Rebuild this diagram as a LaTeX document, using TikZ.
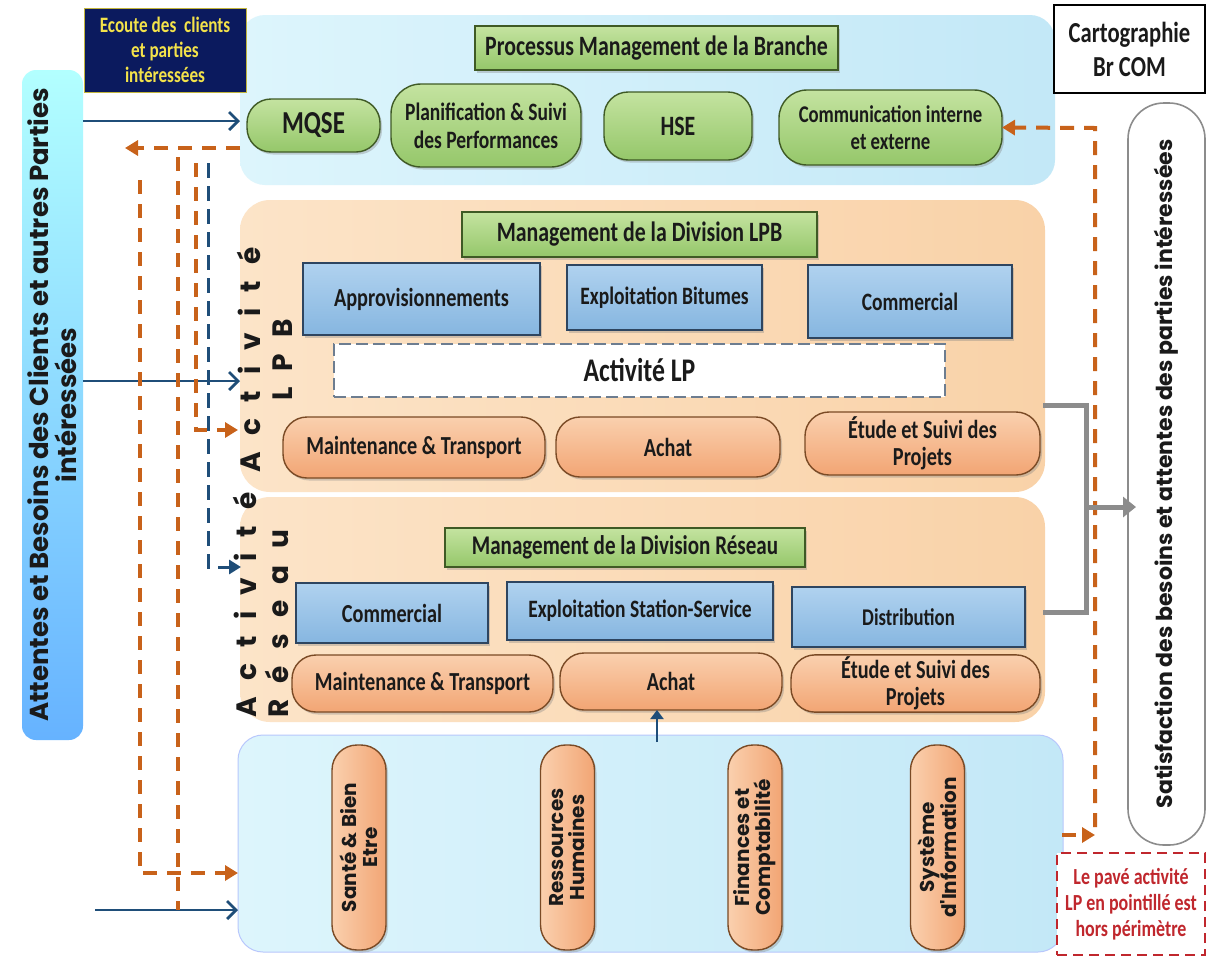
\documentclass[tikz,border=0pt]{standalone}
\usepackage{fontspec}
\setmainfont{Carlito}
\newfontfamily\cond[FakeStretch=0.78]{Carlito}
\newfontfamily\geo{Poppins}
\usetikzlibrary{arrows.meta,shadows}
\definecolor{navy}{HTML}{1F4E79}
\definecolor{orng}{HTML}{C8621A}
\definecolor{grnT}{HTML}{C4E3A0}
\definecolor{grnB}{HTML}{95C76A}
\definecolor{grnD}{HTML}{3F5A25}
\definecolor{bluT}{HTML}{B0D2EF}
\definecolor{bluB}{HTML}{86B6E0}
\definecolor{bluD}{HTML}{2E4560}
\definecolor{orT}{HTML}{FAD0AE}
\definecolor{orB}{HTML}{F2A574}
\definecolor{orD}{HTML}{7A4A25}
\definecolor{cyL}{HTML}{DDF5FC}
\definecolor{cyR}{HTML}{C3E8F7}
\definecolor{pchL}{HTML}{FCE4C8}
\definecolor{pchR}{HTML}{F9D2A8}
\definecolor{ecbg}{HTML}{0B1A5E}
\definecolor{ecfg}{HTML}{F3E24A}
\definecolor{redd}{HTML}{C0272D}
\definecolor{gry}{HTML}{8C8C8C}
\definecolor{txt}{HTML}{1A1A1A}
\newcommand{\fz}[2]{\fontsize{#1}{#2}\selectfont}
\tikzset{
  shd/.style={drop shadow={opacity=.35,shadow xshift=2pt,shadow yshift=-2.5pt}},
  base/.style={text=txt, align=center, inner sep=2pt, outer sep=0pt},
  greenbox/.style={base, draw=grnD, line width=1.4pt, top color=grnT, bottom color=grnB, shd},
  greenpill/.style={greenbox, rounded corners=24pt},
  bluebox/.style={base, draw=bluD, line width=1.4pt, top color=bluT, bottom color=bluB, shd},
  orpill/.style={base, draw=orD, line width=1.4pt, top color=orT, bottom color=orB, rounded corners=24pt, shd},
  vpill/.style={base, draw=orD, line width=1.4pt, left color=orT, right color=orB, rounded corners=25pt, shd, minimum width=54pt, minimum height=205pt},
  vtxt/.style={rotate=90, align=center, text=txt, font=\geo\bfseries\fz{20}{21}},
  band/.style={outer sep=0pt, inner sep=0pt},
  navyarr/.style={draw=navy, line width=2.8pt, -{Straight Barb[length=9pt,width=18pt,line width=2.8pt]}},
  odash/.style={draw=orng, line width=4pt, dash pattern=on 14pt off 10pt},
  otip/.style={-{Triangle[length=13pt,width=15pt]}},
  ndash/.style={draw=navy, line width=3pt, dash pattern=on 15pt off 8pt},
  grayl/.style={draw=gry, line width=5pt}
}
\begin{document}
\begin{tikzpicture}[x=1pt,y=-1pt]
\useasboundingbox[fill=white] (0,0) rectangle (1207,956);

% ---- bands
\node[band, rounded corners=25pt, left color=cyL, right color=cyR, minimum width=815pt, minimum height=170pt] (topband) at (647.5,100) {};
\node[band, rounded corners=30pt, left color=pchL, right color=pchR, minimum width=805pt, minimum height=292pt] (lpbband) at (642.5,346) {};
\node[band, rounded corners=30pt, left color=pchL, right color=pchR, minimum width=805pt, minimum height=225pt] (resband) at (642.5,609.5) {};
\node[band, rounded corners=25pt, left color=cyL, right color=cyR, draw=cyR!70!blue!60, line width=1pt, minimum width=825pt, minimum height=217pt] (botband) at (650.5,843.5) {};

% ---- left box
\node[band, rounded corners=14pt, top color=cyan!30, bottom color=blue!50!cyan!60, minimum width=61pt, minimum height=670pt] (att) at (52.5,405) {};
\node[rotate=90, align=center, text=txt, font=\geo\bfseries\fz{26}{28}] (attlbl) at (att.center) {Attentes et Besoins des Clients et autres Parties\\intéressées};

% ---- ecoute
\node[base, fill=ecbg, draw=ecfg!80!black, line width=1pt, text=ecfg, font=\cond\bfseries\fz{22}{25}, minimum width=162pt, minimum height=84pt] (ecoute) at (165,50) {Ecoute des\ \ clients\\et parties\\intéressées};

% ---- cartographie
\node[base, fill=white, draw=black, line width=1.2pt, font=\cond\bfseries\fz{29}{34}, minimum width=151pt, minimum height=88pt] (carto) at (1129.5,49) {Cartographie\\Br COM};

% ---- satisfaction
\node[band, draw=gry, line width=1.6pt, fill=white, rounded corners=36pt, minimum width=77pt, minimum height=742pt] (sat) at (1166.5,474) {};
\node[rotate=90, text=txt, font=\geo\bfseries\fz{22}{26}] (satlbl) at (sat.center) {Satisfaction des besoins et attentes des parties intéressées};

% ---- top band content
\node[greenbox, font=\cond\bfseries\fz{28}{32}, minimum width=363pt, minimum height=44pt] (procm) at (656.5,48) {Processus Management de la Branche};
\node[greenpill, font=\cond\bfseries\fz{32}{36}, minimum width=133pt, minimum height=53pt] (mqse) at (313.5,125.5) {MQSE};
\node[greenpill, font=\cond\bfseries\fz{25}{28}, minimum width=190pt, minimum height=83pt, rounded corners=30pt] (plan) at (486,125.5) {Planification \& Suivi\\des Performances};
\node[greenpill, font=\cond\bfseries\fz{28}{32}, minimum width=148pt, minimum height=68pt] (hse) at (678,126) {HSE};
\node[greenpill, font=\cond\bfseries\fz{24}{27}, minimum width=223pt, minimum height=75pt, rounded corners=28pt] (comm) at (890.5,127.5) {Communication interne\\et externe};

% ---- LPB
\node[greenbox, font=\cond\bfseries\fz{28}{32}, minimum width=355pt, minimum height=45pt] (mlpb) at (639.5,234.5) {Management de la Division LPB};
\node[bluebox, font=\cond\bfseries\fz{26}{30}, minimum width=237pt, minimum height=72pt] (appro) at (421.5,299) {Approvisionnements};
\node[bluebox, font=\cond\bfseries\fz{25}{29}, minimum width=195pt, minimum height=65pt] (expb) at (664.5,297.5) {Exploitation Bitumes};
\node[bluebox, font=\cond\bfseries\fz{25}{29}, minimum width=204pt, minimum height=73pt] (comm1) at (910,301.5) {Commercial};
\node[base, fill=white, draw=bluD!70, line width=1.6pt, dash pattern=on 12pt off 5pt, font=\cond\bfseries\fz{33}{37}, minimum width=611pt, minimum height=53pt] (actlp) at (639.5,370.5) {Activité LP};
\node[orpill, font=\cond\bfseries\fz{26}{28}, minimum width=262pt, minimum height=61pt] (maint1) at (414,447.5) {Maintenance \& Transport};
\node[orpill, font=\cond\bfseries\fz{26}{28}, minimum width=224pt, minimum height=60pt] (achat1) at (668,447) {Achat};
\node[orpill, font=\cond\bfseries\fz{26}{27}, minimum width=235pt, minimum height=63pt] (etude1) at (922.5,443.5) {Étude et Suivi des\\Projets};
\node[rotate=90, align=center, text=txt, font=\geo\bfseries\fz{28}{32}\addfontfeatures{LetterSpace=58}] (lblLPB) at (265,360) {Activité\\LPB};

% ---- Reseau
\node[greenbox, font=\cond\bfseries\fz{27}{31}, minimum width=360pt, minimum height=39pt] (mres) at (625,547.5) {Management de la Division Réseau};
\node[bluebox, font=\cond\bfseries\fz{26}{30}, minimum width=192pt, minimum height=60pt] (comm2) at (392,613) {Commercial};
\node[bluebox, font=\cond\bfseries\fz{25}{29}, minimum width=266pt, minimum height=58pt] (exps) at (640,611) {Exploitation Station-Service};
\node[bluebox, font=\cond\bfseries\fz{24}{28}, minimum width=233pt, minimum height=60pt] (distr) at (908.5,617) {Distribution};
\node[orpill, font=\cond\bfseries\fz{26}{28}, minimum width=261pt, minimum height=57pt] (maint2) at (422.5,683.5) {Maintenance \& Transport};
\node[orpill, font=\cond\bfseries\fz{26}{28}, minimum width=222pt, minimum height=57pt] (achat2) at (671,681.5) {Achat};
\node[orpill, font=\cond\bfseries\fz{26}{27}, minimum width=249pt, minimum height=57pt] (etude2) at (915.5,683.5) {Étude et Suivi des\\Projets};
\node[rotate=90, anchor=west, align=left, text=txt, font=\geo\bfseries\fz{28}{32}\addfontfeatures{LetterSpace=58}] (lblRes) at (261,721) {Activité\\Réseau};

% ---- support
\node[vpill] (sante) at (359,847.5) {};
\node[vtxt] (santel) at (sante.center) {Santé \& Bien\\Etre};
\node[vpill] (rh) at (567.5,847.5) {};
\node[vtxt] (rhl) at (rh.center) {Ressources\\Humaines};
\node[vpill] (fin) at (755,847.5) {};
\node[vtxt] (finl) at (fin.center) {Finances et\\Comptabilité};
\node[vpill] (si) at (937.5,847.5) {};
\node[vtxt] (sil) at (si.center) {Système\\d'Information};

% ---- note
\node[base, fill=white, draw=redd, line width=1.6pt, dash pattern=on 10pt off 6pt, text=redd, font=\cond\bfseries\fz{23}{26}, minimum width=148pt, minimum height=102pt] (note) at (1131,904) {Le pavé activité\\LP en pointillé est\\hors périmètre};

% ---- coordinates
\coordinate (n1) at (83,121);
\coordinate (n2) at (83,381);
\coordinate (n3) at (95,910);
\coordinate (o0) at (240,148);
\coordinate (o0e) at (125,148);
\coordinate (v1t) at (140,180);
\coordinate (v1b) at (140,873);
\coordinate (v2t) at (178,157);
\coordinate (v2b) at (178,910);
\coordinate (v3t) at (196,163);
\coordinate (v3b) at (196,430);
\coordinate (v3e) at (238,430);
\coordinate (nvt) at (208,163);
\coordinate (nvb) at (208,567);
\coordinate (nve) at (241,567);
\coordinate (r0) at (1062,835);
\coordinate (r1) at (1095,835);
\coordinate (r2) at (1095,827);
\coordinate (r3) at (1095,128);
\coordinate (g1) at (1043,405);
\coordinate (g2) at (1086,405);
\coordinate (g3) at (1086,612);
\coordinate (g4) at (1043,612);
\coordinate (g5) at (1086,507);
\coordinate (g6) at (1136,507);
\coordinate (up0) at (657,742);

% ---- connectors
\draw[navyarr] (n1) -- (n1 -| topband.west);
\draw[navyarr] (n2) -- (n2 -| lpbband.west);
\draw[navyarr] (n3) -- (n3 -| botband.west);
\draw[odash, otip] (o0) -- (o0e);
\draw[odash, otip] (v1t) -- (v1b) -- (v1b -| botband.west);
\draw[odash] (v2t) -- (v2b);
\draw[odash, otip] (v3t) -- (v3b) -- (v3e);
\draw[ndash, -{Triangle[length=12pt,width=14pt]}] (nvt) -- (nvb) -- (nve);
\draw[odash, otip] (r0) -- (r1);
\draw[odash, otip] (r2) -- (r3) -- (comm.east);
\draw[grayl] (g1) -- (g2) -- (g3) -- (g4);
\draw[grayl, -{Triangle[length=13pt,width=20pt]}] (g5) -- (g6);
\draw[draw=navy, line width=2.5pt, -{Triangle[length=9pt,width=13pt]}] (up0) -- (up0 |- achat2.south);
\end{tikzpicture}
\end{document}
